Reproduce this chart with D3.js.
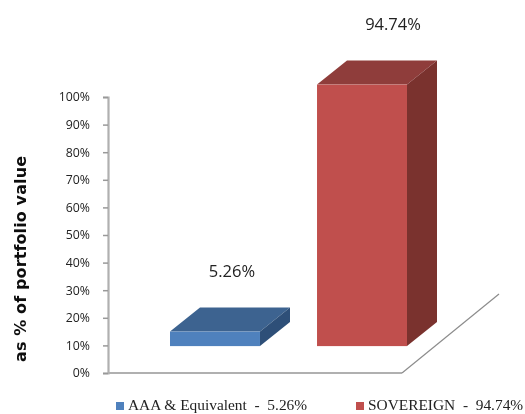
<!DOCTYPE html>
<html>
<head>
<meta charset="utf-8">
<script src="https://cdn.jsdelivr.net/npm/d3@7"></script>
<style>
html, body { margin: 0; padding: 0; background: #fff; overflow: hidden; }
svg { display: block; }
</style>
</head>
<body>
<div id="chart"></div>
<script>
var categories = ['AAA & Equivalent', 'SOVEREIGN'];
var values = [5.26, 94.74];
var valueLabels = ['5.26%', '94.74%'];
var legendLabels = ['AAA & Equivalent  -  5.26%', 'SOVEREIGN  -  94.74%'];
var tickValues = [0, 10, 20, 30, 40, 50, 60, 70, 80, 90, 100];
var frontColors = ['#4f81bd', '#c0504d'];
var topColors = ['#3c6390', '#8f3d3b'];
var sideColors = ['#2f5078', '#7a302e'];

var width = 525, height = 414;
var depthX = 30, depthY = 24;   // 3d offset of the bars
var floorX = 97, floorY = 79;   // 3d offset of the floor
var labelShift = [17, 31];      // labels are not centred on the bars

var svg = d3.select('#chart').append('svg')
    .attr('width', width)
    .attr('height', height);

var defs = svg.append('defs');
defs.append('filter').attr('id', 'soft')
    .attr('filterUnits', 'userSpaceOnUse')
    .attr('x', 0).attr('y', 0)
    .attr('width', width).attr('height', height)
    .append('feGaussianBlur').attr('stdDeviation', 0.55);

var g = svg.append('g').attr('filter', 'url(#soft)');

var x = d3.scaleBand().domain(categories).range([170, 407]).paddingInner(0.388);
var y = d3.scaleLinear().domain([0, 100]).range([373, 97]);
var base = y(10) + 0.7;

// axis
var axis = g.append('g')
    .attr('transform', 'translate(108,0)')
    .call(d3.axisLeft(y).tickValues(tickValues).tickSize(5).tickPadding(13)
        .tickFormat(function (d) { return d + '%'; }));
axis.selectAll('.domain').attr('stroke', '#b0b0b0').attr('stroke-width', 2.2);
axis.selectAll('.tick line').attr('stroke', '#999').attr('stroke-width', 1.5);
axis.selectAll('.tick text')
    .attr('font-family', '"Open Sans", sans-serif')
    .attr('font-size', 12.3)
    .attr('fill', '#222');

// floor
var floor = [[108, y(0)], [402, y(0)], [402 + floorX, y(0) - floorY]];
g.append('line')
    .attr('x1', floor[0][0]).attr('y1', floor[0][1])
    .attr('x2', floor[1][0]).attr('y2', floor[1][1])
    .attr('stroke', '#b0b0b0').attr('stroke-width', 2.2);
g.append('line')
    .attr('x1', floor[1][0]).attr('y1', floor[1][1])
    .attr('x2', floor[2][0]).attr('y2', floor[2][1])
    .attr('stroke', '#8c8c8c').attr('stroke-width', 1.2);

// bars
var bars = g.selectAll('.bar').data(categories).enter().append('g').attr('class', 'bar');
function barTop(i) { return base - (y(0) - y(values[i])); }

bars.append('path')
    .attr('fill', function (d, i) { return topColors[i]; })
    .attr('d', function (d, i) {
        var l = x(d), r = l + x.bandwidth(), t = barTop(i);
        return 'M' + l + ',' + t + 'L' + r + ',' + t + 'L' + (r + depthX) + ',' + (t - depthY) + 'L' + (l + depthX) + ',' + (t - depthY) + 'Z';
    });
bars.append('path')
    .attr('fill', function (d, i) { return sideColors[i]; })
    .attr('d', function (d, i) {
        var r = x(d) + x.bandwidth(), t = barTop(i);
        return 'M' + r + ',' + t + 'L' + (r + depthX) + ',' + (t - depthY) + 'L' + (r + depthX) + ',' + (base - depthY) + 'L' + r + ',' + base + 'Z';
    });
bars.append('rect')
    .attr('fill', function (d, i) { return frontColors[i]; })
    .attr('x', function (d) { return x(d); })
    .attr('y', function (d, i) { return barTop(i); })
    .attr('width', x.bandwidth())
    .attr('height', function (d, i) { return base - barTop(i); });

// value labels
bars.append('text')
    .attr('x', function (d, i) { return x(d) + x.bandwidth() / 2 + labelShift[i]; })
    .attr('y', function (d, i) { return barTop(i) - 55; })
    .attr('text-anchor', 'middle')
    .attr('font-family', '"Open Sans", sans-serif')
    .attr('font-size', 16.5)
    .attr('fill', '#222')
    .text(function (d, i) { return valueLabels[i]; });

// y title
g.append('text')
    .attr('transform', 'translate(26,259) rotate(-90)')
    .attr('text-anchor', 'middle')
    .attr('font-family', '"DejaVu Sans", sans-serif')
    .attr('font-weight', 700)
    .attr('font-size', 16)
    .attr('textLength', 206)
    .attr('lengthAdjust', 'spacing')
    .attr('fill', '#111')
    .text('as % of portfolio value');

// legend
var legendX = [116, 356];
var legend = g.selectAll('.legend').data(legendLabels).enter().append('g')
    .attr('class', 'legend')
    .attr('transform', function (d, i) { return 'translate(' + legendX[i] + ',402)'; });
legend.append('rect')
    .attr('width', 8).attr('height', 8)
    .attr('fill', function (d, i) { return frontColors[i]; });
legend.append('text')
    .attr('x', 12).attr('y', 8.4)
    .style('white-space', 'pre')
    .attr('font-family', '"Liberation Serif", serif')
    .attr('font-size', 15.4)
    .attr('fill', '#222')
    .text(function (d) { return d; });
</script>
</body>
</html>
